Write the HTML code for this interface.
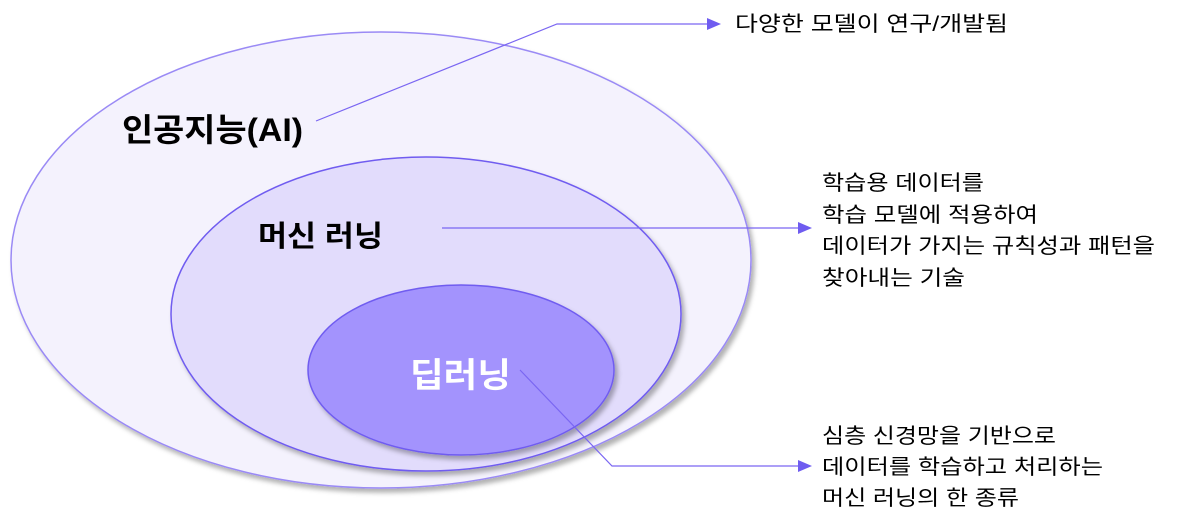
<!DOCTYPE html>
<html><head><meta charset="utf-8"><style>
body{margin:0;width:1177px;height:521px;background:#fff;overflow:hidden;font-family:"Liberation Sans","Noto Sans CJK KR",sans-serif}
</style></head><body>
<svg width="1177" height="521" viewBox="0 0 1177 521" xmlns="http://www.w3.org/2000/svg">
<defs>
<filter id="sh" x="-10%" y="-10%" width="120%" height="120%"><feDropShadow dx="3" dy="4" stdDeviation="2.5" flood-color="#000" flood-opacity="0.3"/></filter>
</defs>
<ellipse cx="381" cy="260" rx="370" ry="228" fill="#f4f2fd" stroke="#9a8af5" stroke-width="1.5" filter="url(#sh)"/>
<ellipse cx="426" cy="314" rx="255" ry="157" fill="#e2dcfc" stroke="#6f5cf0" stroke-width="1.5" filter="url(#sh)"/>
<ellipse cx="461" cy="370" rx="153" ry="85" fill="#a393fd" stroke="#6f5cf0" stroke-width="1.5" filter="url(#sh)"/>
<g stroke="#7a66f2" stroke-width="1.2" fill="none">
<polyline points="316,121 557,24 709,24"/>
<line x1="442" y1="228" x2="800" y2="228"/>
<polyline points="520,370 612,466 800,466"/>
</g>
<g fill="#6f5cf0">
<polygon points="707,18 721,24 707,30"/>
<polygon points="798,222 812,228 798,234"/>
<polygon points="798,460 812,466 798,472"/>
</g>
<g font-family="Liberation Sans,Noto Sans CJK KR,sans-serif" font-weight="bold" lengthAdjust="spacingAndGlyphs">
<text x="122" y="141" font-size="32" fill="#000" textLength="181" lengthAdjust="spacingAndGlyphs">인공지능(AI)</text>
<text x="258" y="246" font-size="29" fill="#000" textLength="125" lengthAdjust="spacingAndGlyphs">머신 러닝</text>
<text x="410" y="387" font-size="34" fill="#fff" textLength="101" lengthAdjust="spacingAndGlyphs">딥러닝</text>
</g>
<g font-size="21" fill="#000">
<text x="735" y="31" textLength="273" lengthAdjust="spacingAndGlyphs">다양한 모델이 연구/개발됨</text>
<text x="822" y="190" textLength="162" lengthAdjust="spacingAndGlyphs">학습용 데이터를</text>
<text x="822" y="222" textLength="216" lengthAdjust="spacingAndGlyphs">학습 모델에 적용하여</text>
<text x="822" y="253" textLength="333" lengthAdjust="spacingAndGlyphs">데이터가 가지는 규칙성과 패턴을</text>
<text x="822" y="285" textLength="143" lengthAdjust="spacingAndGlyphs">찾아내는 기술</text>
<text x="822" y="443" textLength="234" lengthAdjust="spacingAndGlyphs">심층 신경망을 기반으로</text>
<text x="822" y="474" textLength="281" lengthAdjust="spacingAndGlyphs">데이터를 학습하고 처리하는</text>
<text x="822" y="505" textLength="197" lengthAdjust="spacingAndGlyphs">머신 러닝의 한 종류</text>
</g>
</svg>
</body></html>
